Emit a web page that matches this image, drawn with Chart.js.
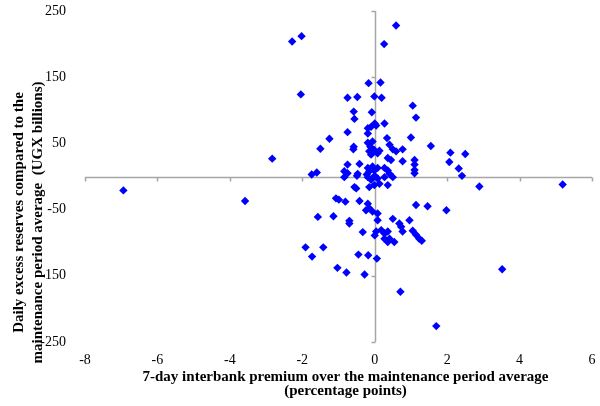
<!DOCTYPE html>
<html><head><meta charset="utf-8">
<script src="https://cdn.jsdelivr.net/npm/chart.js@4/dist/chart.umd.min.js"></script>
<style>html,body{margin:0;padding:0;background:#fff}#wrap{width:600px;height:406px;position:relative}</style>
</head><body><div id="wrap"><canvas id="c"></canvas></div>
<script>
const premium = [-6.94,-3.58,-2.83,-2.28,-2.02,-2.04,-1.74,-1.60,-1.50,-1.25,
 -1.07,-0.99,-0.81,-1.57,-1.14,-1.91,-1.42,-1.73,-1.03,-0.78,
 -0.28,-0.45,-0.18,0.06,0.71,1.70,3.52,5.19,2.89,1.98,
 1.14,1.46,2.41,2.32,2.06,2.09,2.50,1.55,0.59,0.26,
 -0.17,0.16,-0.75,-0.48,-0.01,0.19,1.05,1.14,-0.58,-0.08,
 -0.56,0.27,0.00,-0.10,-0.19,0.04,-0.75,-0.19,0.34,1.00,
 -0.58,-0.59,-0.19,-0.06,-0.12,-0.01,0.13,0.41,0.50,0.59,
 0.77,-0.15,-0.10,0.08,0.36,0.45,0.77,1.10,1.10,1.10,
 1.10,-0.75,-0.42,-0.19,-0.06,-0.01,0.08,-0.15,0.27,0.36,
 -0.84,-0.47,0.41,-0.22,0.00,-0.75,-0.84,-0.49,-0.19,-0.10,
 0.08,-0.01,0.13,0.27,0.50,0.36,-0.15,-0.56,-0.51,-0.42,
 -0.19,-0.15,-0.24,-0.06,0.08,0.08,-0.70,-0.70,0.50,0.96,
 0.68,0.73,0.77,-0.33,0.00,0.04,0.18,0.27,0.36,0.27,
 0.36,0.54,0.41,1.05,1.14,1.23,1.30];
const reserves = [-21,-37,27,204,212,124,3,6,42,57,
 -33,-35,-38,-61,-60,-107,-107,-121,-138,-145,
 -148,-118,-119,-124,-174,-226,-140,-12,-15,-51,
 -43,-45,1,12,22,36,34,46,228,200,
 141,142,119,120,121,119,107,89,98,97,
 87,80,80,75,73,77,67,65,58,59,
 45,41,51,53,45,40,39,48,41,38,
 41,38,33,35,28,25,23,25,18,10,
 5,18,19,13,15,9,13,8,13,9,
 8,4,4,3,1,5,-1,1,-1,-5,
 -3,-13,-11,-1,-1,-13,-16,-16,-18,-37,
 -41,-48,-51,-53,-56,-66,-67,-71,-64,-66,
 -71,-76,-83,-84,-89,-83,-81,-86,-83,-94,
 -99,-99,-94,-82,-88,-94,-97];
const xTicks = [-8,-6,-4,-2,0,2,4,6];
const yTicks = [-250,-150,-50,50,150,250];
const xAxisTitle = ['7-day interbank premium over the maintenance period average','(percentage points)'];
const yAxisTitle = ['Daily excess reserves compared to the','maintenance period average  (UGX billions)'];

const points = premium.map((x,i)=>({x:x,y:reserves[i]}));
const FONT = '"Liberation Serif", "Times New Roman", serif';
const AXIS_GRAY = '#a6a6a6';

// axis lines crossing at zero, placed through the chart's own scales
const zeroAxesPlugin = {
  id:'zeroAxes',
  beforeDatasetsDraw(chart){
    const ctx = chart.ctx, a = chart.chartArea;
    const sx = chart.scales.x, sy = chart.scales.y;
    const y0 = Math.round(sy.getPixelForValue(0)) + 0.5;
    const x0 = Math.round(sx.getPixelForValue(0)) + 0.5;
    ctx.save();
    ctx.strokeStyle = AXIS_GRAY;
    ctx.lineWidth = 1.5;
    ctx.beginPath();
    ctx.moveTo(a.left, y0); ctx.lineTo(a.right, y0);
    ctx.moveTo(x0, a.top); ctx.lineTo(x0, a.bottom);
    xTicks.forEach(v=>{
      const px = Math.round(sx.getPixelForValue(v)) + 0.5;
      ctx.moveTo(px, y0); ctx.lineTo(px, y0 + 4);
    });
    yTicks.forEach(v=>{
      const py = Math.round(sy.getPixelForValue(v)) + 0.5;
      ctx.moveTo(x0, py); ctx.lineTo(x0 - 4, py);
    });
    ctx.stroke();
    ctx.restore();
  }
};

const titlePlugin = {
  id:'axisTitles',
  afterDraw(chart){
    const ctx = chart.ctx, a = chart.chartArea;
    ctx.save();
    ctx.fillStyle = '#000';
    ctx.font = 'bold 15px ' + FONT;
    ctx.textAlign = 'center';
    ctx.textBaseline = 'middle';
    const cx = (a.left + a.right)/2 + 7;
    ctx.fillText(xAxisTitle[0], cx, a.bottom + 35);
    ctx.fillText(xAxisTitle[1], cx, a.bottom + 49);
    const my = (a.top + a.bottom)/2;
    ctx.save(); ctx.translate(a.left - 66, my + 36); ctx.rotate(-Math.PI/2);
    ctx.fillText(yAxisTitle[0], 0, 0); ctx.restore();
    ctx.save(); ctx.translate(a.left - 46.5, my + 46); ctx.rotate(-Math.PI/2);
    ctx.fillText(yAxisTitle[1], 0, 0); ctx.restore();
    ctx.restore();
  }
};

function noPad(s){ s.paddingTop = 0; s.paddingBottom = 0; s.paddingLeft = 0; s.paddingRight = 0; }

new Chart(document.getElementById('c'), {
  type:'scatter',
  data:{datasets:[{
    data: points,
    pointStyle:'rectRot',
    pointRadius:4.2,
    pointHoverRadius:4.2,
    backgroundColor:'#0000ff',
    borderColor:'#0000ff',
    borderWidth:0
  }]},
  options:{
    responsive:true, maintainAspectRatio:false, animation:false,
    layout:{padding:{top:11,right:8,left:0,bottom:0}},
    plugins:{legend:{display:false}, tooltip:{enabled:false}},
    events:[],
    scales:{
      x:{type:'linear', position:'bottom', min:-8, max:6,
        afterBuildTicks(s){ s.ticks = xTicks.map(v=>({value:v})); },
        afterFit(s){ s.height = 64; noPad(s); },
        grid:{display:false, drawTicks:false}, border:{display:false},
        ticks:{color:'#000', font:{family:FONT, size:14}, padding:10, maxRotation:0, autoSkip:false}
      },
      y:{type:'linear', position:'left', min:-250, max:250,
        afterBuildTicks(s){ s.ticks = yTicks.map(v=>({value:v})); },
        afterFit(s){ s.width = 85; noPad(s); },
        grid:{display:false, drawTicks:false}, border:{display:false},
        ticks:{color:'#000', font:{family:FONT, size:14}, padding:19, autoSkip:false}
      }
    }
  },
  plugins:[zeroAxesPlugin, titlePlugin]
});
</script>
</body></html>
